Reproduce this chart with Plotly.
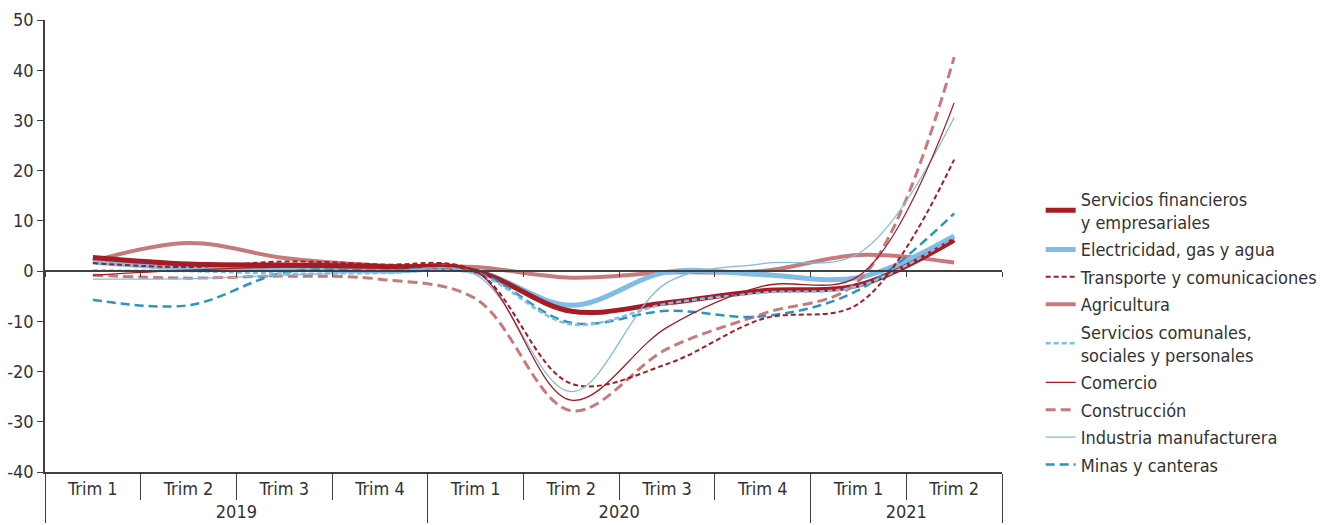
import plotly.graph_objects as go

years = ["2019"] * 4 + ["2020"] * 4 + ["2021"] * 2
trims = ["Trim 1", "Trim 2", "Trim 3", "Trim 4", "Trim 1", "Trim 2", "Trim 3", "Trim 4", "Trim 1", "Trim 2"]

serv_fin = [2.7, 1.4, 1.2, 0.9, 0.0, -8.0, -6.3, -3.9, -2.8, 6.2]
electricidad = [1.8, 0.6, 0.5, 0.0, 0.0, -6.8, -0.2, -0.7, -1.3, 7.0]
transporte = [1.6, 0.8, 1.9, 1.3, 0.0, -22.4, -18.5, -9.5, -6.5, 22.2]
agricultura = [2.0, 5.6, 2.6, 1.1, 0.8, -1.3, -0.3, 0.0, 3.2, 1.7]
serv_comunales = [0.1, 0.0, -0.5, -0.4, -0.5, -10.6, -6.5, -4.3, -3.0, 6.8]
comercio = [-0.8, 0.2, 0.8, 0.6, 0.0, -25.7, -11.2, -3.0, -1.0, 33.5]
construccion = [-0.8, -1.4, -1.0, -1.6, -5.5, -27.8, -15.5, -8.5, -2.0, 42.6]
industria = [-1.6, -1.5, -0.8, -0.2, -0.7, -24.0, -2.3, 1.5, 3.5, 30.6]
minas = [-5.7, -6.8, -0.3, 0.1, -0.2, -10.3, -7.9, -9.0, -3.8, 11.5]

y_ticks = [-40, -30, -20, -10, 0, 10, 20, 30, 40, 50]
y_ticklabels = ["-40", "-30", "-20", "-10", "0", "10", "20", "30", "40", "50"]

DARK_RED = "#A51C24"
PINK = "#C87A7A"
LIGHT_BLUE = "#80BCE5"
TEAL = "#2A95BF"

# (name, values, color, width, dash, legend rank) in drawing order
series = [
    ("Agricultura", agricultura, PINK, 4, "solid", 4),
    ("Electricidad, gas y agua", electricidad, LIGHT_BLUE, 5, "solid", 2),
    ("Servicios financieros<br>y empresariales", serv_fin, DARK_RED, 5, "solid", 1),
    ("Construcción", construccion, PINK, 3, "10px,5px", 7),
    ("Minas y canteras", minas, TEAL, 2.5, "9px,5px", 9),
    ("Servicios comunales,<br>sociales y personales", serv_comunales, LIGHT_BLUE, 2.5, "5px,3px", 5),
    ("Transporte y comunicaciones", transporte, DARK_RED, 2, "5px,3px", 3),
    ("Industria manufacturera", industria, LIGHT_BLUE, 1.3, "solid", 8),
    ("Comercio", comercio, DARK_RED, 1.3, "solid", 6),
]

fig = go.Figure()
for name, vals, color, width, dash, rank in series:
    fig.add_trace(go.Scatter(
        x=[years, trims], y=vals, name=name, mode="lines",
        line=dict(color=color, width=width, dash=dash, shape="spline", smoothing=1.0),
        legendrank=rank, legendgroup=name, hoverinfo="skip",
    ))

font_family = "DejaVu Sans Condensed, Liberation Sans Narrow, Roboto, sans-serif"

fig.update_layout(
    width=1327, height=525,
    margin=dict(l=45, r=325, t=20, b=53, autoexpand=False),
    paper_bgcolor="white", plot_bgcolor="white",
    font=dict(family=font_family, size=18, color="#333333"),
    showlegend=True,
    legend=dict(
        x=1.0404, xanchor="left", y=0.31, yanchor="middle",
        font=dict(size=18, color="#333333"),
        bgcolor="rgba(0,0,0,0)", borderwidth=0, tracegroupgap=1,
    ),
    xaxis=dict(
        type="multicategory", range=[-0.5, 9.5], automargin=False,
        showline=True, linecolor="#404040", linewidth=1.5,
        ticks="outside", tickson="boundaries", ticklen=26, tickcolor="#404040",
        dividercolor="#404040", dividerwidth=1.2,
        showgrid=False, zeroline=False,
        tickfont=dict(size=18, color="#333333"),
    ),
    xaxis2=dict(
        overlaying="x", anchor="free", position=40 / 90,
        range=[-0.5, 9.5], tickvals=[i + 0.5 for i in range(-1, 10)],
        showticklabels=False, ticks="outside", ticklen=5, tickcolor="#404040",
        showline=True, linecolor="#404040", linewidth=1.5,
        showgrid=False, zeroline=False, automargin=False,
    ),
    yaxis=dict(
        range=[-40, 50], tickvals=y_ticks, ticktext=y_ticklabels, automargin=False,
        showline=True, linecolor="#404040", linewidth=1.5,
        ticks="outside", ticklen=6, tickcolor="#404040",
        showgrid=False, zeroline=False,
        tickfont=dict(size=18, color="#333333"),
    ),
)

# dummy trace to make xaxis2 render
fig.add_trace(go.Scatter(x=[0], y=[None], xaxis="x2", showlegend=False, hoverinfo="skip"))

fig.write_html(
    "out.html",
    config={"displayModeBar": False},
    post_script="document.body.style.margin='0';document.body.style.overflow='hidden';",
)
